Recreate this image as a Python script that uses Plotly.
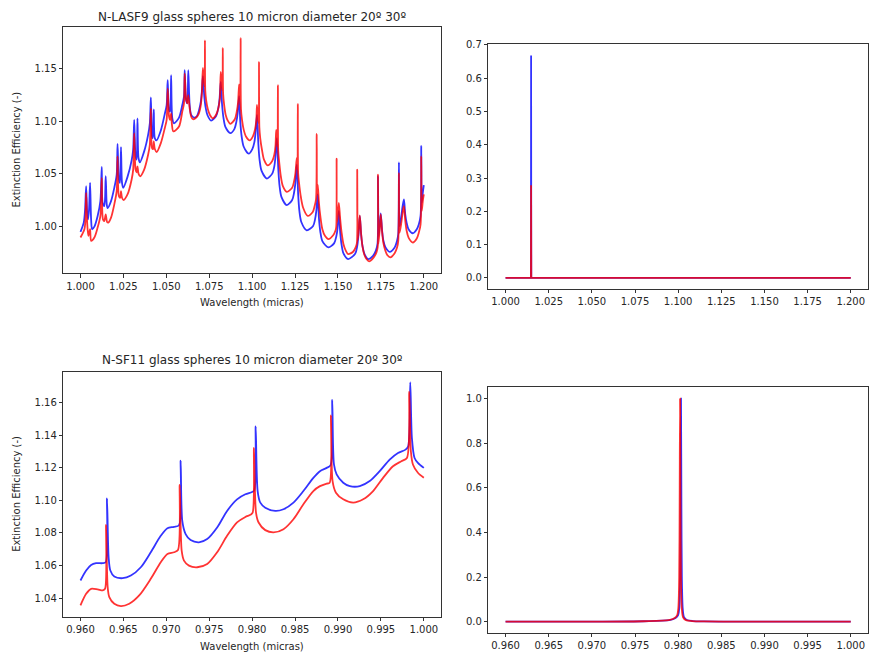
import plotly.graph_objects as go

# ---------------- N-LASF9 (top-left) ----------------
tl_blue_x = [1.0000, 1.0019, 1.0027, 1.0033, 1.0039, 1.0044, 1.0050, 1.0056, 1.0062, 1.0068,
             1.0081, 1.0100, 1.0116, 1.0124, 1.0129, 1.0139, 1.0147, 1.0153, 1.0158, 1.0178,
             1.0197, 1.0211, 1.0216, 1.0224, 1.0230, 1.0236, 1.0242, 1.0249, 1.0274, 1.0298,
             1.0307, 1.0313, 1.0321, 1.0327, 1.0332, 1.0338, 1.0346, 1.0371, 1.0394, 1.0404,
             1.0410, 1.0417, 1.0421, 1.0427, 1.0433, 1.0443, 1.0468, 1.0491, 1.0502, 1.0508,
             1.0516, 1.0522, 1.0528, 1.0535, 1.0545, 1.0574, 1.0593, 1.0603, 1.0607, 1.0615,
             1.0622, 1.0628, 1.0636, 1.0645, 1.0661, 1.0676, 1.0690, 1.0701, 1.0707, 1.0713,
             1.0721, 1.0729, 1.0740, 1.0761, 1.0790, 1.0802, 1.0810, 1.0817,
             1.0825, 1.0833, 1.0844, 1.0873, 1.0897, 1.0908, 1.0916, 1.0924,
             1.0931, 1.0939, 1.0951, 1.0980, 1.1001, 1.1013, 1.1020, 1.1028,
             1.1036, 1.1043, 1.1055, 1.1086, 1.1117, 1.1129, 1.1136, 1.1144,
             1.1152, 1.1159, 1.1171, 1.1202, 1.1233, 1.1244, 1.1252, 1.1260,
             1.1268, 1.1275, 1.1287, 1.1318, 1.1355, 1.1366, 1.1374, 1.1382,
             1.1389, 1.1397, 1.1409, 1.1444, 1.1478, 1.1490, 1.1498, 1.1505,
             1.1513, 1.1521, 1.1532, 1.1559, 1.1600, 1.1612, 1.1619, 1.1627,
             1.1635, 1.1643, 1.1654, 1.1675, 1.1704, 1.1720, 1.1730, 1.1733, 1.1737, 1.1743, 1.1749,
             1.1757, 1.1764, 1.1776, 1.1801, 1.1830, 1.1844, 1.1851, 1.1855, 1.1859, 1.1869, 1.1876, 1.1884,
             1.1892, 1.1900, 1.1911, 1.1936, 1.1959, 1.1971, 1.1981, 1.1985, 1.1988, 1.1994, 1.2000]
tl_blue_y = [0.9950, 1.0038, 1.0164, 1.0384, 1.0132, 1.0069, 1.0164, 1.0415, 1.0069, 0.9975,
             1.0000, 1.0101, 1.0242, 1.0566, 1.0226, 1.0195, 1.0478, 1.0211, 1.0176, 1.0242,
             1.0368, 1.0494, 1.0786, 1.0447, 1.0415, 1.0755, 1.0415, 1.0368, 1.0472, 1.0629,
             1.0730, 1.1013, 1.0667, 1.0635, 1.1028, 1.0651, 1.0610, 1.0714, 1.0871, 1.0981,
             1.1226, 1.0855, 1.0840, 1.1113, 1.0840, 1.0818, 1.0912, 1.1069, 1.1154, 1.1390,
             1.1107, 1.1091, 1.1437, 1.1028, 1.0981, 1.1035, 1.1154, 1.1233, 1.1484, 1.1201,
             1.1170, 1.1484, 1.1154, 1.1060, 1.1035, 1.1044, 1.1101, 1.1186, 1.1280, 1.1428,
             1.1239, 1.1132, 1.1057, 1.1006, 1.1050, 1.1116, 1.1208, 1.1374,
             1.1154, 1.1031, 1.0947, 1.0887, 1.0928, 1.0994, 1.1082, 1.1239,
             1.0994, 1.0855, 1.0758, 1.0692, 1.0736, 1.0802, 1.0893, 1.1060,
             1.0789, 1.0638, 1.0528, 1.0456, 1.0503, 1.0572, 1.0667, 1.0840,
             1.0553, 1.0396, 1.0280, 1.0204, 1.0252, 1.0321, 1.0415, 1.0588,
             1.0308, 1.0151, 1.0041, 0.9965, 1.0006, 1.0066, 1.0151, 1.0305,
             1.0079, 0.9953, 0.9862, 0.9802, 0.9843, 0.9906, 0.9991, 1.0148,
             0.9943, 0.9827, 0.9745, 0.9692, 0.9742, 0.9814, 0.9915, 1.0101,
             0.9918, 0.9814, 0.9742, 0.9692, 0.9723, 0.9770, 0.9833, 1.0478, 0.9912, 1.0000, 1.0126,
             0.9962, 0.9871, 0.9805, 0.9761, 0.9802, 0.9865, 0.9928, 1.0610, 1.0006, 1.0101, 1.0189, 1.0258,
             1.0113, 1.0035, 0.9975, 0.9937, 0.9975, 1.0022, 1.0101, 1.0767, 1.0226, 1.0321, 1.0393]

tl_red_x = [1.0000, 1.0023, 1.0029, 1.0033, 1.0039, 1.0046, 1.0056, 1.0062, 1.0081, 1.0100,
            1.0116, 1.0124, 1.0131, 1.0139, 1.0147, 1.0155, 1.0162, 1.0178, 1.0197, 1.0211,
            1.0216, 1.0224, 1.0232, 1.0236, 1.0242, 1.0251, 1.0274, 1.0298, 1.0307, 1.0313,
            1.0321, 1.0327, 1.0332, 1.0338, 1.0348, 1.0371, 1.0394, 1.0404, 1.0410, 1.0417,
            1.0423, 1.0427, 1.0433, 1.0444, 1.0468, 1.0491, 1.0502, 1.0508, 1.0516, 1.0522,
            1.0528, 1.0533, 1.0541, 1.0574, 1.0593, 1.0603, 1.0607, 1.0615, 1.0622, 1.0628,
            1.0636, 1.0645, 1.0655, 1.0676, 1.0690, 1.0701, 1.0707, 1.0713, 1.0719, 1.0723,
            1.0725, 1.0727, 1.0732, 1.0742, 1.0754, 1.0771, 1.0792, 1.0804, 1.0812, 1.0817,
            1.0823, 1.0827, 1.0829, 1.0831, 1.0837, 1.0846, 1.0858, 1.0873, 1.0899, 1.0910,
            1.0918, 1.0924, 1.0929, 1.0931, 1.0933, 1.0935, 1.0941, 1.0951, 1.0964, 1.0986,
            1.1005, 1.1016, 1.1024, 1.1028, 1.1034, 1.1038, 1.1040, 1.1042, 1.1047, 1.1057,
            1.1069, 1.1090, 1.1117, 1.1129, 1.1136, 1.1140, 1.1146, 1.1148, 1.1150, 1.1152,
            1.1158, 1.1167, 1.1179, 1.1202, 1.1233, 1.1244, 1.1252, 1.1260, 1.1264, 1.1266,
            1.1268, 1.1273, 1.1283, 1.1297, 1.1324, 1.1353, 1.1364, 1.1372, 1.1376, 1.1378,
            1.1382, 1.1389, 1.1397, 1.1409, 1.1424, 1.1444, 1.1472, 1.1486, 1.1490, 1.1492,
            1.1494, 1.1500, 1.1505, 1.1513, 1.1521, 1.1532, 1.1546, 1.1559, 1.1588, 1.1604,
            1.1610, 1.1612, 1.1614, 1.1621, 1.1627, 1.1635, 1.1643, 1.1654, 1.1666, 1.1681,
            1.1708, 1.1724, 1.1731, 1.1733, 1.1735, 1.1743, 1.1749, 1.1757, 1.1764, 1.1776,
            1.1787, 1.1805, 1.1830, 1.1844, 1.1851, 1.1855, 1.1859, 1.1869, 1.1878, 1.1884,
            1.1892, 1.1900, 1.1911, 1.1936, 1.1959, 1.1971, 1.1981, 1.1985, 1.1988, 1.1994,
            1.2000]
tl_red_y = [0.9896, 0.9975, 1.0069, 1.0321, 1.0038, 0.9912, 0.9975, 0.9865, 0.9896, 0.9991,
            1.0101, 1.0462, 1.0069, 1.0053, 1.0116, 1.0044, 1.0038, 1.0085, 1.0211, 1.0336,
            1.0667, 1.0289, 1.0274, 1.0336, 1.0274, 1.0252, 1.0305, 1.0447, 1.0541, 1.0887,
            1.0541, 1.0516, 1.0572, 1.0503, 1.0478, 1.0541, 1.0682, 1.0777, 1.1123, 1.0745,
            1.0736, 1.0808, 1.0736, 1.0708, 1.0792, 1.0934, 1.1013, 1.1311, 1.1044, 1.1013,
            1.1075, 1.0965, 1.0903, 1.0950, 1.1091, 1.1170, 1.1453, 1.1217, 1.1170, 1.1248,
            1.1123, 1.1044, 1.1019, 1.1038, 1.1075, 1.1154, 1.1264, 1.1506, 1.1384, 1.1327,
            1.1767, 1.1289, 1.1201, 1.1113, 1.1060, 1.1028, 1.1069, 1.1132, 1.1217, 1.1469,
            1.1343, 1.1289, 1.1695, 1.1258, 1.1154, 1.1060, 1.1006, 1.0975, 1.1019, 1.1088,
            1.1179, 1.1349, 1.1201, 1.1154, 1.1789, 1.1113, 1.1013, 1.0918, 1.0855, 1.0818,
            1.0859, 1.0918, 1.1003, 1.1154, 1.1028, 1.0981, 1.1563, 1.0943, 1.0840, 1.0730,
            1.0635, 1.0582, 1.0623, 1.0682, 1.0767, 1.0918, 1.0792, 1.0755, 1.1343, 1.0714,
            1.0604, 1.0478, 1.0384, 1.0330, 1.0368, 1.0428, 1.0506, 1.0651, 1.0541, 1.1164,
            1.0503, 1.0415, 1.0289, 1.0179, 1.0101, 1.0138, 1.0195, 1.0258, 1.0881, 1.0305,
            1.0399, 1.0226, 1.0101, 0.9975, 0.9912, 0.9881, 0.9918, 0.9965, 1.0000, 1.0645,
            1.0038, 1.0116, 1.0226, 1.0069, 0.9943, 0.9833, 0.9770, 0.9739, 0.9761, 0.9808,
            0.9843, 1.0541, 0.9865, 0.9959, 1.0107, 0.9928, 0.9808, 0.9730, 0.9692, 0.9670,
            0.9708, 0.9755, 0.9802, 1.0494, 0.9833, 0.9975, 1.0116, 0.9950, 0.9849, 0.9770,
            0.9730, 0.9708, 0.9748, 0.9802, 0.9865, 1.0509, 0.9943, 1.0038, 1.0148, 1.0195,
            1.0053, 0.9959, 0.9896, 0.9849, 0.9887, 0.9943, 1.0022, 1.0667, 1.0148, 1.0242,
            1.0305]

# ---------------- top-right ----------------
tr_x = [1.0000, 1.0147, 1.0148, 1.0149, 1.2000]
tr_blue_y = [0.0, 0.0, 0.668, 0.0, 0.0]
tr_red_y = [0.0, 0.0, 0.278, 0.0, 0.0]

# ---------------- N-SF11 (bottom-left) ----------------
bl_blue_x = [0.96000, 0.96066, 0.96124, 0.96182, 0.96259, 0.96294, 0.96309, 0.96328, 0.96348, 0.96394,
             0.96491, 0.96587, 0.96703, 0.96819, 0.96935, 0.97013, 0.97090, 0.97148, 0.97167, 0.97186,
             0.97225, 0.97283, 0.97380, 0.97476, 0.97592, 0.97708, 0.97824, 0.97921, 0.97998, 0.98025,
             0.98041, 0.98064, 0.98095, 0.98153, 0.98269, 0.98365, 0.98481, 0.98597, 0.98713, 0.98790,
             0.98868, 0.98914, 0.98933, 0.98953, 0.98984, 0.99061, 0.99138, 0.99254, 0.99370, 0.99486,
             0.99602, 0.99699, 0.99787, 0.99818, 0.99842, 0.99861, 0.99892, 0.99931, 1.00000]
bl_blue_y = [1.0508, 1.0569, 1.0603, 1.0614, 1.0614, 1.0620, 1.1012, 1.0650, 1.0569, 1.0532,
             1.0522, 1.0538, 1.0589, 1.0681, 1.0782, 1.0829, 1.0837, 1.0847, 1.1244, 1.0874,
             1.0793, 1.0756, 1.0742, 1.0762, 1.0833, 1.0935, 1.1006, 1.1037, 1.1051, 1.1061,
             1.1454, 1.1057, 1.0986, 1.0955, 1.0935, 1.0945, 1.0986, 1.1057, 1.1138, 1.1179,
             1.1199, 1.1216, 1.1616, 1.1220, 1.1159, 1.1108, 1.1087, 1.1087, 1.1118, 1.1179,
             1.1250, 1.1291, 1.1311, 1.1332, 1.1724, 1.1382, 1.1260, 1.1230, 1.1199]
bl_red_x = [0.96000, 0.96066, 0.96124, 0.96201, 0.96259, 0.96286, 0.96298, 0.96317, 0.96336, 0.96394,
            0.96471, 0.96568, 0.96684, 0.96819, 0.96935, 0.97013, 0.97090, 0.97136, 0.97156, 0.97179,
            0.97206, 0.97264, 0.97360, 0.97476, 0.97592, 0.97708, 0.97824, 0.97921, 0.97979, 0.98006,
            0.98021, 0.98045, 0.98075, 0.98153, 0.98249, 0.98365, 0.98481, 0.98597, 0.98713, 0.98790,
            0.98868, 0.98903, 0.98918, 0.98937, 0.98976, 0.99061, 0.99177, 0.99293, 0.99409, 0.99525,
            0.99641, 0.99738, 0.99803, 0.99830, 0.99849, 0.99873, 0.99931, 1.00000]
bl_red_y = [1.0355, 1.0426, 1.0457, 1.0453, 1.0447, 1.0457, 1.0849, 1.0467, 1.0406, 1.0365,
            1.0351, 1.0365, 1.0416, 1.0518, 1.0620, 1.0671, 1.0681, 1.0695, 1.1094, 1.0691,
            1.0630, 1.0599, 1.0589, 1.0609, 1.0681, 1.0782, 1.0864, 1.0898, 1.0911, 1.0925,
            1.1321, 1.0925, 1.0864, 1.0817, 1.0803, 1.0823, 1.0884, 1.0976, 1.1057, 1.1087,
            1.1102, 1.1108, 1.1521, 1.1118, 1.1047, 1.1006, 1.0986, 1.1006, 1.1057, 1.1138,
            1.1209, 1.1240, 1.1260, 1.1667, 1.1301, 1.1220, 1.1169, 1.1138]

# ---------------- bottom-right ----------------
br_blue_x = [0.9600, 0.9700, 0.9760, 0.9790, 0.9797, 0.9800, 0.98013, 0.98023, 0.98028, 0.98033,
             0.98038, 0.98043, 0.98053, 0.98068, 0.9810, 0.9817, 0.9830, 0.9860, 0.9920, 1.0000]
br_blue_y = [0.0002, 0.0006, 0.002, 0.007, 0.017, 0.03, 0.06, 0.2, 0.5, 1.0,
             0.5, 0.2, 0.06, 0.02, 0.008, 0.003, 0.0012, 0.0004, 0.0001, 0.00005]
br_red_x = [0.9600, 0.9700, 0.9760, 0.9789, 0.9796, 0.97989, 0.98002, 0.98012, 0.98017, 0.98022,
            0.98027, 0.98032, 0.98042, 0.98057, 0.9809, 0.9816, 0.9829, 0.9859, 0.9919, 1.0000]
br_red_y = [0.0002, 0.0006, 0.002, 0.007, 0.017, 0.03, 0.06, 0.2, 0.5, 1.0,
            0.5, 0.2, 0.06, 0.02, 0.007, 0.003, 0.0011, 0.0004, 0.0001, 0.00005]

# ---------------- ticks / text ----------------
tl_xticks = [1.000, 1.025, 1.050, 1.075, 1.100, 1.125, 1.150, 1.175, 1.200]
tl_xlabels = ["1.000", "1.025", "1.050", "1.075", "1.100", "1.125", "1.150", "1.175", "1.200"]
tl_yticks = [1.00, 1.05, 1.10, 1.15]
tl_ylabels = ["1.00", "1.05", "1.10", "1.15"]
tr_yticks = [0.0, 0.1, 0.2, 0.3, 0.4, 0.5, 0.6, 0.7]
tr_ylabels = ["0.0", "0.1", "0.2", "0.3", "0.4", "0.5", "0.6", "0.7"]
bl_xticks = [0.960, 0.965, 0.970, 0.975, 0.980, 0.985, 0.990, 0.995, 1.000]
bl_xlabels = ["0.960", "0.965", "0.970", "0.975", "0.980", "0.985", "0.990", "0.995", "1.000"]
bl_yticks = [1.04, 1.06, 1.08, 1.10, 1.12, 1.14, 1.16]
bl_ylabels = ["1.04", "1.06", "1.08", "1.10", "1.12", "1.14", "1.16"]
br_yticks = [0.0, 0.2, 0.4, 0.6, 0.8, 1.0]
br_ylabels = ["0.0", "0.2", "0.4", "0.6", "0.8", "1.0"]

title_top = "N-LASF9 glass spheres 10 micron diameter 20º 30º"
title_bottom = "N-SF11 glass spheres 10 micron diameter 20º 30º"
xlabel = "Wavelength (micras)"
ylabel = "Extinction Efficiency (-)"

BLUE = "rgba(0,0,255,0.8)"
RED = "rgba(255,0,0,0.8)"
LW = 1.8

fig = go.Figure()


def add(x, y, color, xa, ya, shape="spline"):
    line = dict(color=color, width=LW, shape=shape)
    if shape == "spline":
        line["smoothing"] = 0.8
    fig.add_trace(go.Scatter(x=x, y=y, mode="lines", line=line,
                             xaxis=xa, yaxis=ya, showlegend=False, hoverinfo="skip"))


add(tl_blue_x, tl_blue_y, BLUE, "x", "y")
add(tl_red_x, tl_red_y, RED, "x", "y")
add(tr_x, tr_blue_y, BLUE, "x2", "y2", "linear")
add(tr_x, tr_red_y, RED, "x2", "y2", "linear")
add(bl_blue_x, bl_blue_y, BLUE, "x3", "y3")
add(bl_red_x, bl_red_y, RED, "x3", "y3")
add(br_blue_x, br_blue_y, BLUE, "x4", "y4")
add(br_red_x, br_red_y, RED, "x4", "y4")

W, H = 869, 661


def ax(domain, rng, tv, tt, anchor):
    return dict(domain=domain, range=rng, tickmode="array", tickvals=tv, ticktext=tt,
                anchor=anchor, showline=True, mirror=True, linecolor="#333333", linewidth=1,
                ticks="outside", ticklen=3.5, tickwidth=1, tickcolor="#333333",
                showgrid=False, zeroline=False,
                tickfont=dict(family="DejaVu Sans", size=10, color="#262626"))


xl = [63.3 / W, 441 / W]
xr = [488.3 / W, 868 / W]

fig.update_layout(
    width=W, height=H, margin=dict(l=0, r=0, t=0, b=0),
    paper_bgcolor="white", plot_bgcolor="white",
    font=dict(family="DejaVu Sans", size=10, color="#262626"),
    xaxis=ax(xl, [0.99, 1.21], tl_xticks, tl_xlabels, "y"),
    yaxis=ax([1 - 270.7 / H, 1 - 23.3 / H], [0.9559, 1.1893], tl_yticks, tl_ylabels, "x"),
    xaxis2=ax(xr, [0.99, 1.21], tl_xticks, tl_xlabels, "y2"),
    yaxis2=ax([1 - 286.7 / H, 1 - 40 / H], [-0.0335, 0.7035], tr_yticks, tr_ylabels, "x2"),
    xaxis3=ax(xl, [0.958, 1.002], bl_xticks, bl_xlabels, "y3"),
    yaxis3=ax([1 - 616.7 / H, 1 - 370 / H], [1.0284, 1.1789], bl_yticks, bl_ylabels, "x3"),
    xaxis4=ax(xr, [0.958, 1.002], bl_xticks, bl_xlabels, "y4"),
    yaxis4=ax([1 - 632.7 / H, 1 - 385.7 / H], [-0.05, 1.05], br_yticks, br_ylabels, "x4"),
)

cx = (63.3 + 441) / 2 / W
anns = [
    dict(text=title_top, x=cx, y=1 - 12.7 / H, size=12),
    dict(text=title_bottom, x=cx, y=1 - 358 / H, size=12),
    dict(text=xlabel, x=cx, y=1 - 300 / H, size=10),
    dict(text=xlabel, x=cx, y=1 - 646 / H, size=10),
]
for a in anns:
    fig.add_annotation(text=a["text"], x=a["x"], y=a["y"], xref="paper", yref="paper",
                       xanchor="center", yanchor="middle", showarrow=False,
                       font=dict(family="DejaVu Sans", size=a["size"], color="#262626"))
for yc in [(23.3 + 270.7) / 2, (370 + 616.7) / 2]:
    fig.add_annotation(text=ylabel, x=16.5 / W, y=1 - yc / H, xref="paper", yref="paper",
                       xanchor="center", yanchor="middle", showarrow=False, textangle=-90,
                       font=dict(family="DejaVu Sans", size=10, color="#262626"))

fig.write_html("out.html", config={"displayModeBar": False})
